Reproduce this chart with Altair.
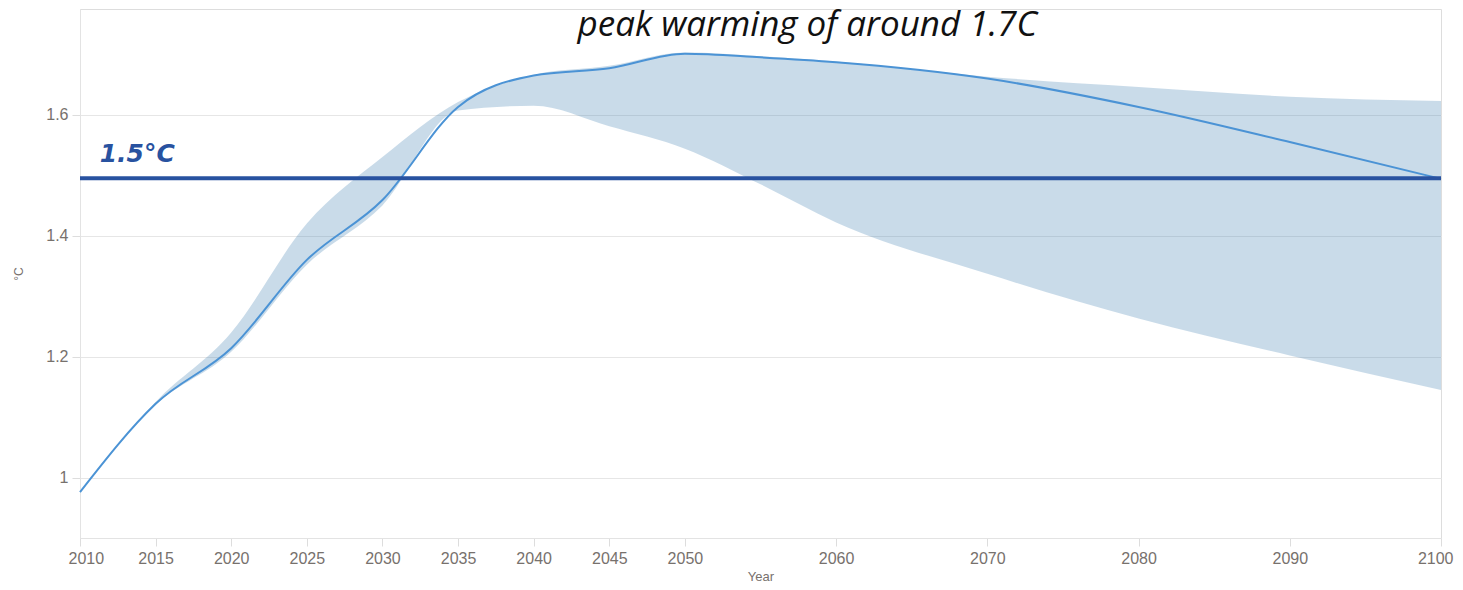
import altair as alt
import pandas as pd

years = [2010, 2015, 2020, 2025, 2030, 2035, 2040, 2045, 2050, 2055, 2060, 2070, 2080, 2090, 2100]
central = [0.976, 1.122, 1.214, 1.360, 1.459, 1.613, 1.665, 1.677, 1.701, 1.695, 1.687, 1.660, 1.613, 1.555, 1.494]
upper = [0.976, 1.125, 1.240, 1.420, 1.530, 1.621, 1.666, 1.681, 1.703, 1.697, 1.688, 1.663, 1.646, 1.630, 1.623]
lower = [0.976, 1.120, 1.208, 1.352, 1.450, 1.607, 1.615, 1.581, 1.544, 1.485, 1.422, 1.337, 1.263, 1.202, 1.145]

x_ticks = [2010, 2015, 2020, 2025, 2030, 2035, 2040, 2045, 2050, 2060, 2070, 2080, 2090, 2100]
y_ticks = [1, 1.2, 1.4, 1.6]

threshold = 1.495
threshold_label = "1.5°C"
title_text = "peak warming of around 1.7C"

df = pd.DataFrame({"Year": years, "central": central, "upper": upper, "lower": lower})
rule_df = pd.DataFrame({"Year": [2010], "Year2": [2100], "v": [threshold]})
lab_df = pd.DataFrame({"Year": [2011.3], "v": [1.522], "t": [threshold_label]})
title_df = pd.DataFrame({"Year": [2058.1], "v": [1.731], "t": [title_text]})

gray = "#77716d"
xs = alt.Scale(domain=[2010, 2100], nice=False, zero=False)
ys = alt.Scale(domain=[0.9, 1.775], nice=False, zero=False)

x_axis = alt.Axis(values=x_ticks, format="d", grid=False, tickSize=8, tickColor="#dddddd",
                  domainColor="#e3e3e3", labelColor=gray, labelFontSize=16, labelPadding=4,
                  labelFlush=True, labelFlushOffset=12, labelFont="Liberation Sans", title="Year",
                  titleColor=gray, titleFontSize=13, titleFontWeight="normal",
                  titleFont="Liberation Sans", titlePadding=4)
y_axis = alt.Axis(values=y_ticks, format="~g", grid=True, gridColor="#e6e6e6", tickSize=8,
                  tickColor="#dddddd", domainColor="#e3e3e3", labelColor=gray, labelFontSize=16,
                  labelPadding=4, labelFlush=False, labelFont="Liberation Sans", title="°C",
                  titleColor=gray, titleFontSize=12, titleFontWeight="normal",
                  titleFont="Liberation Sans", titlePadding=20)

band = alt.Chart(df).mark_area(color="steelblue", opacity=0.29, interpolate="monotone").encode(
    x=alt.X("Year:Q", scale=xs, axis=x_axis),
    y=alt.Y("lower:Q", scale=ys, axis=y_axis),
    y2="upper:Q",
)
line = alt.Chart(df).mark_line(color="#4b93d5", strokeWidth=2, interpolate="monotone").encode(
    x=alt.X("Year:Q", scale=xs),
    y=alt.Y("central:Q", scale=ys),
)
rule = alt.Chart(rule_df).mark_rule(color="#2852a0", strokeWidth=4).encode(
    x=alt.X("Year:Q", scale=xs), x2="Year2:Q", y=alt.Y("v:Q", scale=ys)
)
lab = alt.Chart(lab_df).mark_text(color="#2852a0", fontSize=25, fontWeight="bold", fontStyle="italic",
                                  font="DejaVu Sans", align="left", baseline="alphabetic").encode(
    x=alt.X("Year:Q", scale=xs), y=alt.Y("v:Q", scale=ys), text="t:N"
)
ttl = alt.Chart(title_df).mark_text(color="#111111", fontSize=35, fontStyle="italic", font="Open Sans",
                                    align="center", baseline="alphabetic").encode(
    x=alt.X("Year:Q", scale=xs), y=alt.Y("v:Q", scale=ys), text="t:N"
)

chart = alt.layer(band, line, rule, lab, ttl).properties(
    width=1361, height=529,
    autosize=alt.AutoSizeParams(type="none"),
    padding={"left": 72, "top": 1, "right": 14, "bottom": 44},
).configure_view(stroke=None).configure(background="white")

chart.save("out.html", embed_options={"renderer": "svg", "actions": False})
